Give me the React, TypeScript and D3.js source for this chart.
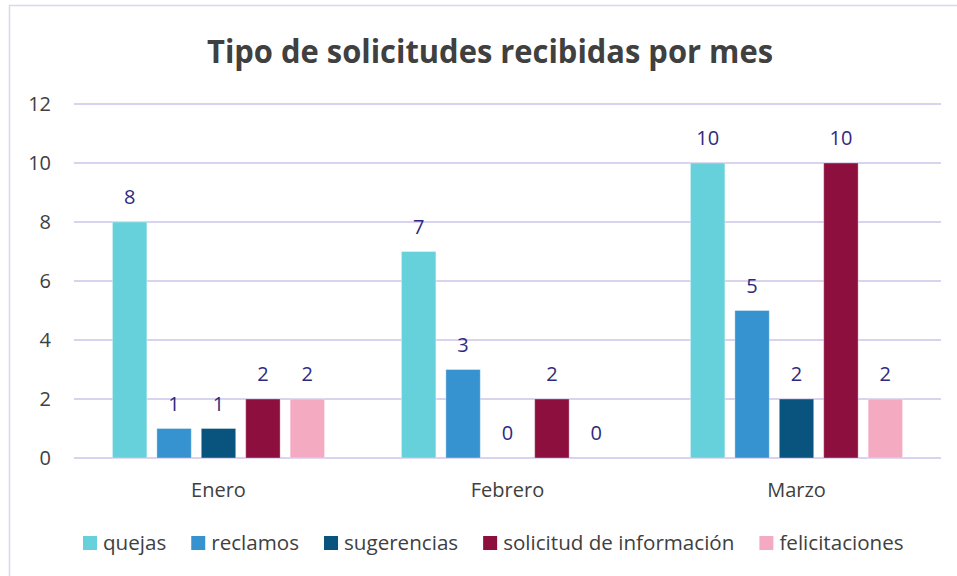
import React, { useEffect, useRef } from 'react'
import * as d3 from 'd3'

const [W, H] = [957, 576]
const margin = { left: 74, right: 16, top: 104, bottom: 118 }

const months = ['Enero', 'Febrero', 'Marzo']
const seriesNames = ['quejas', 'reclamos', 'sugerencias', 'solicitud de información', 'felicitaciones']
const seriesColors = ['#66D1DA', '#3793D0', '#08547F', '#8C0F3E', '#F4AAC1']
const quejas = [8, 7, 10]
const reclamos = [1, 3, 5]
const sugerencias = [1, 0, 2]
const solicitudInfo = [2, 2, 10]
const felicitaciones = [2, 0, 2]
const yTicks = [0, 2, 4, 6, 8, 10, 12]

const seriesValues = [quejas, reclamos, sugerencias, solicitudInfo, felicitaciones]
const FONT = "'Open Sans', sans-serif"

function Chart() {
  const legendRef = useRef<SVGGElement>(null)

  const x0 = d3.scaleBand()
    .domain(months)
    .range([margin.left, W - margin.right])
    .paddingInner(0.266)
    .paddingOuter(0.133)
  const x1 = d3.scaleBand()
    .domain(seriesNames)
    .range([0, x0.bandwidth()])
    .paddingInner(0.225)
  const y = d3.scaleLinear()
    .domain([0, 12])
    .range([H - margin.bottom, margin.top])

  // legend laid out after measuring text
  useEffect(() => {
    const g = d3.select(legendRef.current)
    g.selectAll('*').remove()
    let xPos = 0
    seriesNames.forEach((name, i) => {
      const item = g.append('g').attr('transform', `translate(${xPos},0)`)
      item.append('rect')
        .attr('x', 0).attr('y', -7).attr('width', 14).attr('height', 14)
        .attr('fill', seriesColors[i])
      const t = item.append('text')
        .attr('x', 20).attr('y', 0).attr('dy', '0.35em')
        .style('font-family', FONT).style('font-size', '20.6px')
        .attr('fill', '#404040')
        .text(name)
      const w = (t.node() as SVGTextElement).getComputedTextLength()
      xPos += 20 + w + 25
    })
  }, [])

  return (
    <svg width={W} height={H} style={{ position: 'absolute', left: 0, top: 0 }}>
      <rect x={9.5} y={5.5} width={960} height={600} fill="#fff" stroke="#D9D6F2" strokeWidth={1.5} />
      <text x={490} y={63} textAnchor="middle" fill="#404040" textLength={566} lengthAdjust="spacingAndGlyphs"
        style={{ fontFamily: FONT, fontSize: '33px', fontWeight: 700 }}>
        Tipo de solicitudes recibidas por mes
      </text>
      {yTicks.map(t => (
        <g key={t}>
          <line x1={margin.left} x2={W - margin.right} y1={y(t)} y2={y(t)} stroke="#D9D3F0" strokeWidth={2} />
          <text x={51} y={y(t)} dy="0.35em" textAnchor="end" fill="#404040"
            style={{ fontFamily: FONT, fontSize: '20px' }}>{t}</text>
        </g>
      ))}
      {months.map((m, mi) => (
        <g key={m} transform={`translate(${x0(m)},0)`}>
          {seriesNames.map((s, si) => {
            const v = seriesValues[si][mi]
            const bx = x1(s) as number
            return (
              <g key={s}>
                {v > 0 && (
                  <rect x={bx} y={y(v)} width={x1.bandwidth()} height={y(0) - y(v)}
                    fill={seriesColors[si]} stroke="#ffffff" strokeOpacity={0.35} strokeWidth={1} />
                )}
                <text x={bx + x1.bandwidth() / 2} y={y(v) - 18} textAnchor="middle" fill="#2E2A80"
                  style={{ fontFamily: FONT, fontSize: '20px' }}>{v}</text>
              </g>
            )
          })}
          <text x={x0.bandwidth() / 2} y={H - margin.bottom + 39} textAnchor="middle" fill="#404040"
            style={{ fontFamily: FONT, fontSize: '20px' }}>{m}</text>
        </g>
      ))}
      <g ref={legendRef} transform="translate(83,543)" />
    </svg>
  )
}

export default function App() {
  return <Chart />
}
